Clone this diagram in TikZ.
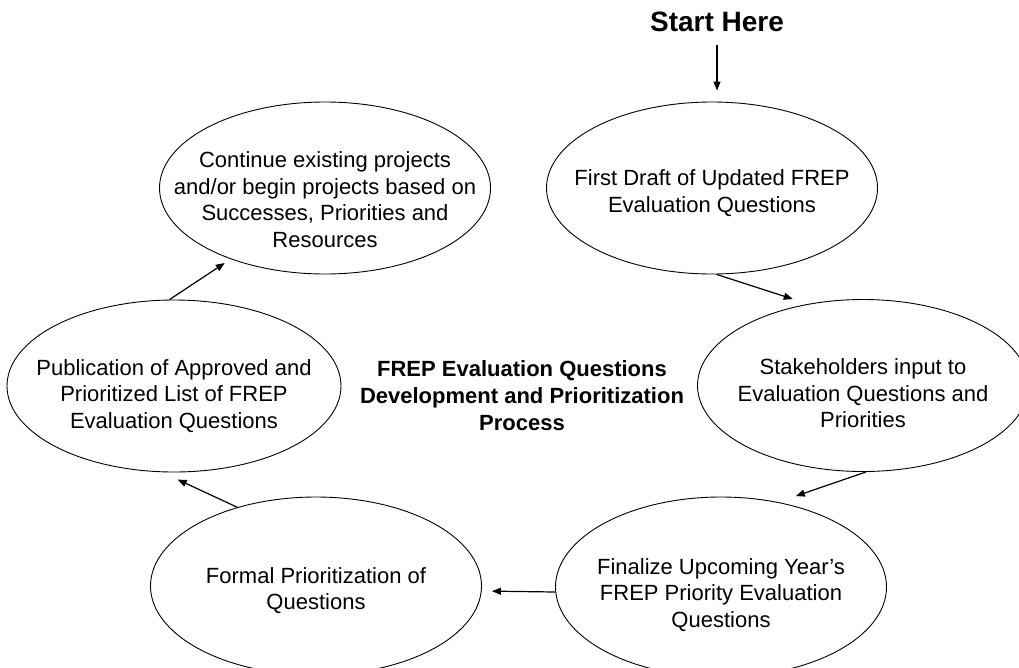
\documentclass[tikz,border=0pt]{standalone}
\usepackage{fontspec}
\setmainfont{Liberation Sans}
\usetikzlibrary{arrows.meta,shapes.geometric}
\begin{document}
\begin{tikzpicture}[x=1pt,y=-1pt,
  ell/.style={draw, ellipse, line width=0.9pt, minimum width=331pt, minimum height=172pt,
    inner sep=0pt},
  txt/.style={align=center, inner sep=0pt, font=\fontsize{22}{26.5}\selectfont},
  arr/.style={-{Triangle[length=9pt,width=7pt]}, line width=1.2pt},
  ttl/.style={font=\bfseries\fontsize{22}{27}\selectfont, align=center, inner sep=0pt},
  strt/.style={font=\bfseries\fontsize{28}{32}\selectfont, inner sep=0pt}
]
\useasboundingbox (0,0) rectangle (1019,667);
\node[strt] (start) at (717,22) {Start Here};
\node[ell, label={[txt, yshift=-5pt]center:{First Draft of Updated FREP\\Evaluation Questions}}] (e1) at (712,188) {};
\node[ell, label={[txt, yshift=-8pt]center:{Stakeholders input to\\Evaluation Questions and\\Priorities}}] (e2) at (863,385.5) {};
\node[ell, minimum height=180pt, label={[txt, yshift=-8pt]center:{Finalize Upcoming Year’s\\FREP Priority Evaluation\\Questions}}] (e3) at (721,587) {};
\node[ell, minimum height=178pt, label={[txt, yshift=-4.5pt]center:{Formal Prioritization of\\Questions}}] (e4) at (316,586) {};
\node[ell, minimum width=334pt, label={[txt, yshift=-10pt]center:{Publication of Approved and\\Prioritized List of FREP\\Evaluation Questions}}] (e5) at (174,386) {};
\node[ell, label={[txt, yshift=-11.5pt]center:{Continue existing projects\\and/or begin projects based on\\Successes, Priorities and\\Resources}}] (e6) at (325,188) {};
\node[ttl] (title) at (522,396) {FREP Evaluation Questions\\Development and Prioritization\\Process};

\draw[arr, shorten <=13pt, shorten >=11pt] (start.south) -- (start.south |- e1.north);
\draw[arr, shorten >=16pt] (e1.273) -- (e2.124.5);
\draw[arr, shorten >=18.6pt] (e2.272.7) -- (e3.56.5);
\draw[arr, shorten >=10pt] ([yshift=-5pt]e3.west) -- ([yshift=-5pt]e4.east);
\draw[arr, shorten >=17.4pt] (e4.135) -- (e5.262.7);
\draw[arr, shorten >=7pt] (e5.93) -- (e6.217.1);
\end{tikzpicture}
\end{document}
